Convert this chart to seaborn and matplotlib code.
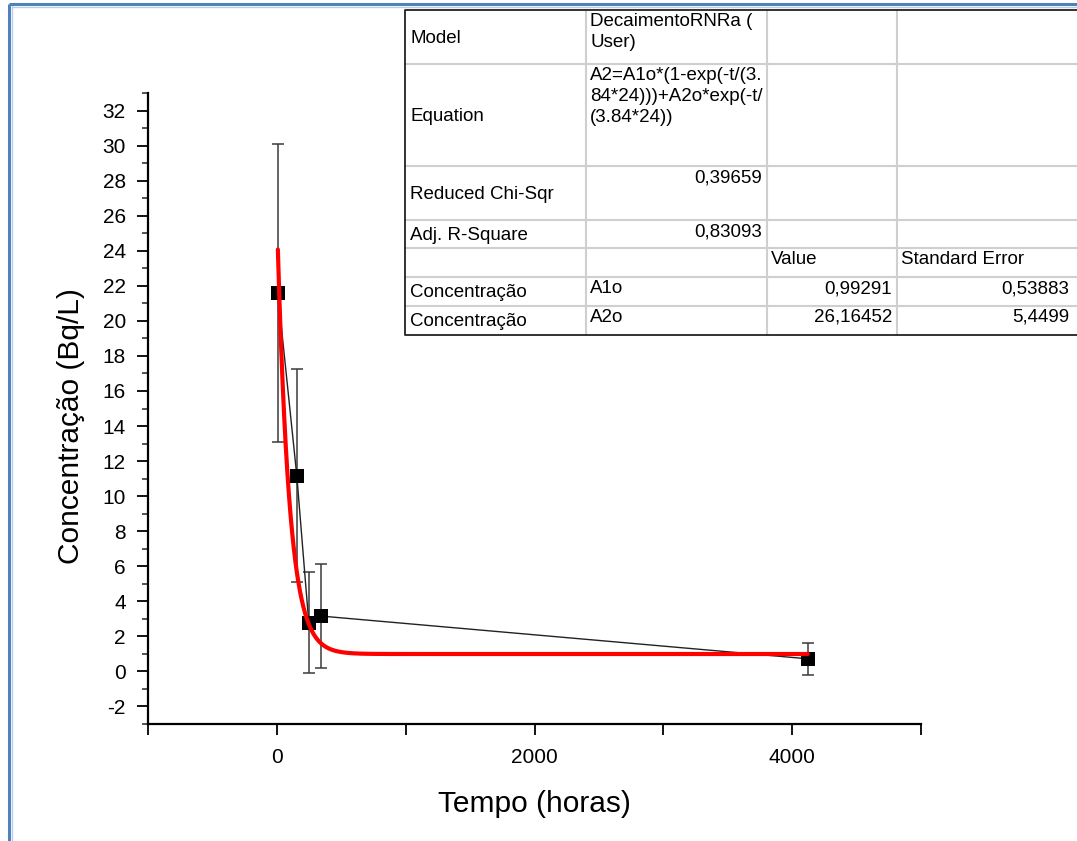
import matplotlib
matplotlib.use("Agg")
import matplotlib.pyplot as plt
import numpy as np
import pandas as pd
import seaborn as sns
from matplotlib.patches import Rectangle
from matplotlib.ticker import MultipleLocator, FuncFormatter

# measured points (hours, Bq/L) and their error bars
tempo = [8, 155, 248, 340, 4121]
conc = [21.58, 11.17, 2.78, 3.16, 0.72]
erro = [8.49, 6.08, 2.89, 2.94, 0.91]

# fit parameters as reported in the table
A1o = 0.99291
A2o = 26.16452
tau = 3.84 * 24

table_rows = [
    ["Model", "DecaimentoRNRa (\nUser)", "", ""],
    ["Equation", "A2=A1o*(1-exp(-t/(3.\n84*24)))+A2o*exp(-t/\n(3.84*24))", "", ""],
    ["Reduced Chi-Sqr", "0,39659", "", ""],
    ["Adj. R-Square", "0,83093", "", ""],
    ["", "", "Value", "Standard Error"],
    ["Concentração", "A1o", "0,99291", "0,53883"],
    ["Concentração", "A2o", "26,16452", "5,4499"],
]

sns.set_style("ticks")
plt.rcParams["font.family"] = ["Liberation Sans", "DejaVu Sans"]
plt.rcParams["axes.unicode_minus"] = False
plt.rcParams["text.color"] = "black"
plt.rcParams["axes.labelcolor"] = "black"

W, H = 1077, 841
fig = plt.figure(figsize=(W / 100, H / 100), dpi=100)
ax = fig.add_axes([148 / W, 1 - 724 / H, (921 - 148) / W, (724 - 93) / H])

df = pd.DataFrame({"Tempo": tempo, "Conc": conc, "Erro": erro})

ax.errorbar(df["Tempo"], df["Conc"], yerr=df["Erro"], fmt="none",
            ecolor="#3a3a3a", elinewidth=1.1, capsize=4.5, capthick=1.1, zorder=2)
sns.lineplot(data=df, x="Tempo", y="Conc", sort=False, color="#222222",
             linewidth=1.0, ax=ax, zorder=3)
sns.scatterplot(data=df, x="Tempo", y="Conc", marker="s", s=110, color="black",
                edgecolor="black", linewidth=0, ax=ax, zorder=4)

t_fit = np.linspace(min(tempo), max(tempo), 2000)
y_fit = A1o * (1 - np.exp(-t_fit / tau)) + A2o * np.exp(-t_fit / tau)
sns.lineplot(x=t_fit, y=y_fit, color="red", linewidth=3.0, ax=ax, zorder=5)

ax.set_xlim(-1000, 5000)
ax.set_ylim(-3, 33)
ax.xaxis.set_major_locator(MultipleLocator(1000))
ax.xaxis.set_major_formatter(FuncFormatter(lambda v, p: f"{int(v)}" if v in (0, 2000, 4000) else ""))
ax.yaxis.set_major_locator(MultipleLocator(2))
ax.yaxis.set_minor_locator(MultipleLocator(1))
ax.tick_params(axis="both", which="major", direction="out", length=8, width=1.3,
               labelsize=15, colors="black")
ax.tick_params(axis="y", which="major", pad=8)
ax.tick_params(axis="x", which="major", pad=9)
ax.tick_params(axis="y", which="minor", direction="out", length=4, width=1.1)
sns.despine(ax=ax)
for s in ["left", "bottom"]:
    ax.spines[s].set_linewidth(1.6)
    ax.spines[s].set_color("black")
ax.set_xlabel("Tempo (horas)", fontsize=21.5, labelpad=17)
ax.set_ylabel("Concentração (Bq/L)", fontsize=21.5)
ax.yaxis.set_label_coords(-0.082, 0.472)

# overlay in pixel coordinates for the results table and the frame
ov = fig.add_axes([0, 0, 1, 1], zorder=10)
ov.set_xlim(0, W)
ov.set_ylim(H, 0)
ov.axis("off")
ov.patch.set_alpha(0)

cols = [405, 586, 767, 897, 1090]
rows = [10, 64, 166, 220, 248, 277, 306, 335]
ov.add_patch(Rectangle((cols[0], rows[0]), cols[-1] - cols[0], rows[-1] - rows[0],
                       facecolor="white", edgecolor="none"))
for x in cols[1:-1]:
    ov.plot([x, x], [rows[0], rows[-1]], color="#cfcfcf", lw=1.5)
for y in rows[1:-1]:
    ov.plot([cols[0], cols[-1]], [y, y], color="#cfcfcf", lw=1.5)
ov.plot([cols[-1], cols[0], cols[0], cols[-1]], [rows[0], rows[0], rows[-1], rows[-1]],
        color="#222222", lw=1.3)

fs = 13.5
for r, row in enumerate(table_rows):
    y0, y1 = rows[r], rows[r + 1]
    for c, txt in enumerate(row):
        if not txt:
            continue
        x0, x1 = cols[c], cols[c + 1]
        if c == 3:
            x1 = 1074
        if c == 0:
            ov.text(x0 + 5, (y0 + y1) / 2 + 1, txt, fontsize=fs, ha="left", va="center")
        elif r in (2, 3) or (r >= 5 and c >= 2):
            ov.text(x1 - 5, y0 + 3, txt, fontsize=fs, ha="right", va="top")
        else:
            ov.text(x0 + 4, y0 + 3, txt, fontsize=fs, ha="left", va="top",
                    linespacing=1.3)

# blue document frame at top and left
ov.plot([9, 9], [4, H], color="#4f81bd", lw=2.2, solid_capstyle="butt")
ov.plot([9, W], [4, 4], color="#4f81bd", lw=2.2, solid_capstyle="butt")
ov.plot([11.5, 11.5], [6, H], color="#b9cde5", lw=1.0)
ov.plot([11.5, W], [6.5, 6.5], color="#b9cde5", lw=1.0)

fig.savefig("out.png", dpi=100)
